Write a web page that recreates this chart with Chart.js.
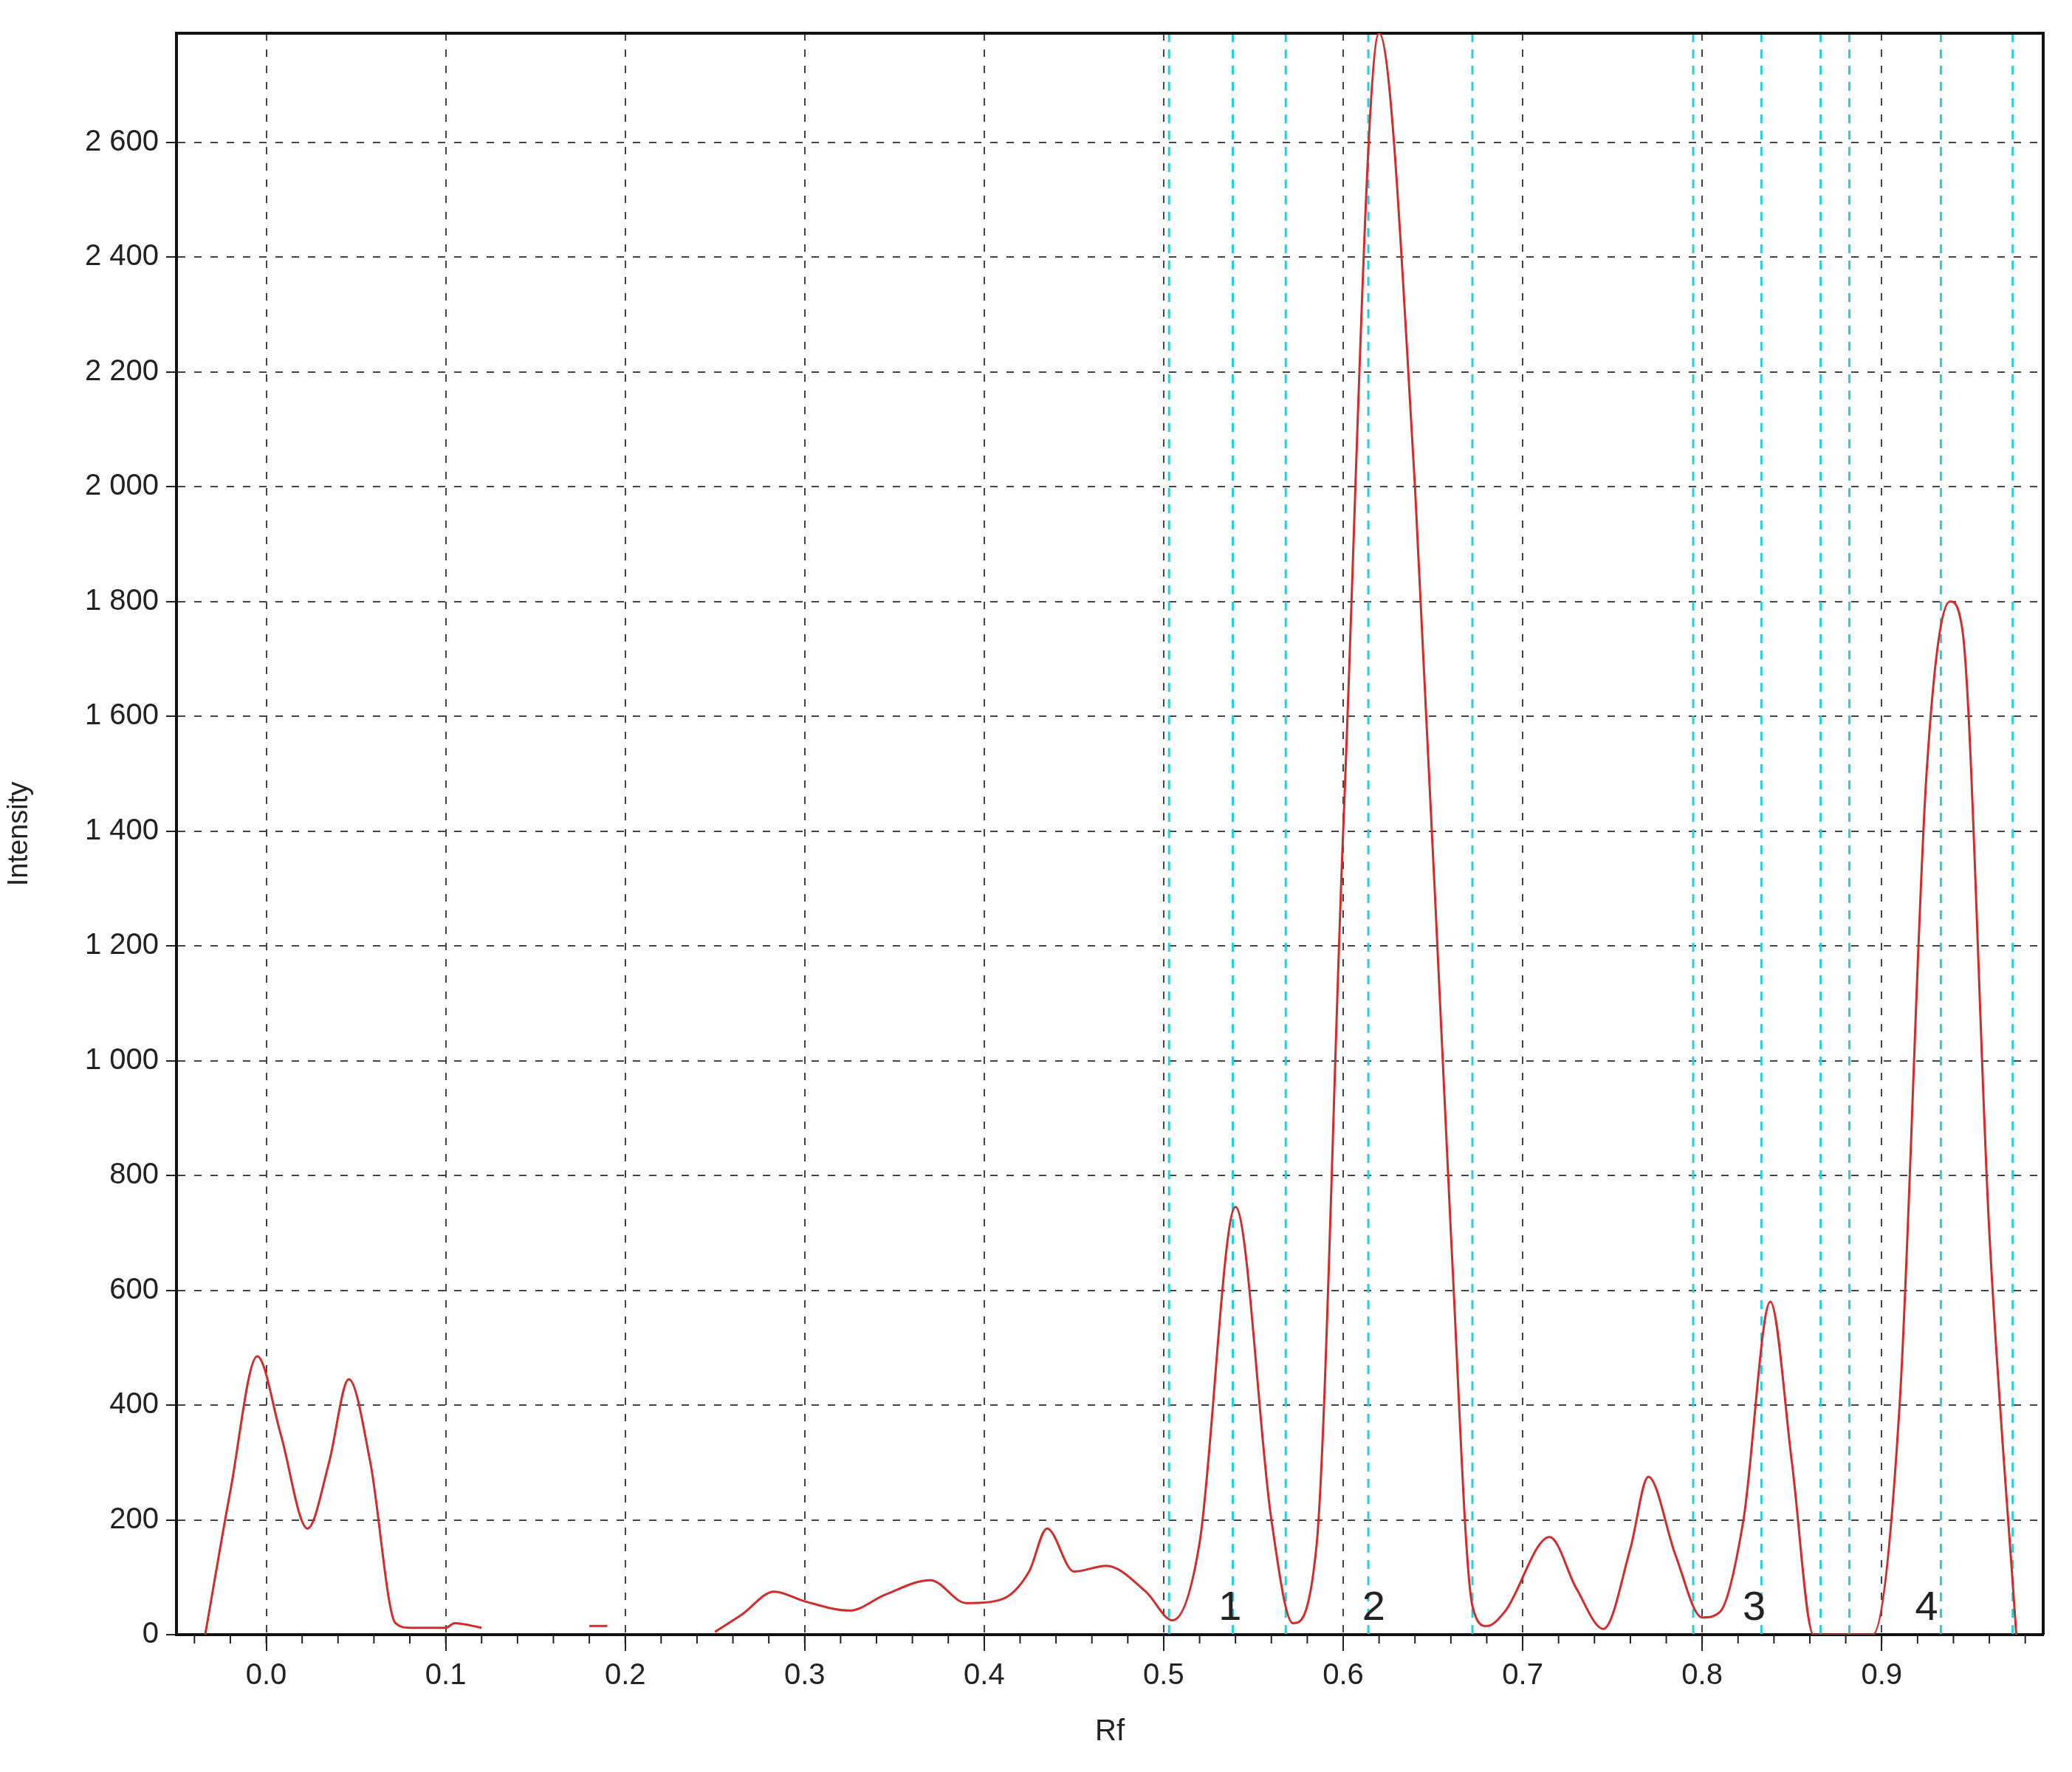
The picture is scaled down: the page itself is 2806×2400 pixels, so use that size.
<!DOCTYPE html>
<html>
<head>
<meta charset="utf-8">
<script src="https://cdn.jsdelivr.net/npm/chart.js@4/dist/chart.umd.min.js"></script>
<style>
  html, body { margin: 0; padding: 0; background: #fff; }
  #wrap { width: 2806px; height: 2400px; }
</style>
</head>
<body>
<div id="wrap"><canvas id="chart"></canvas></div>
<script>
// densitogram trace (Rf, intensity)
const rf = [-0.034, -0.02, -0.005, 0.008, 0.023, 0.035, 0.046, 0.058, 0.072, 0.08, 0.1, 0.105, 0.12,
  0.12, 0.18, 0.18, 0.19, 0.19, 0.25,
  0.25, 0.265, 0.283, 0.30, 0.325, 0.345, 0.37, 0.39, 0.41, 0.425, 0.435, 0.45, 0.468, 0.49, 0.505,
  0.52, 0.54, 0.56, 0.572, 0.585, 0.60, 0.62, 0.64, 0.66, 0.672, 0.68, 0.69, 0.715, 0.73, 0.745,
  0.76, 0.77, 0.785, 0.80, 0.81, 0.823, 0.838, 0.85, 0.862, 0.895, 0.91, 0.925, 0.938, 0.945, 0.96, 0.975];
const intensity = [0, 250, 485, 350, 185, 300, 445, 300, 20, 12, 12, 20, 12,
  null, null, 15, 15, null, null,
  5, 35, 75, 58, 42, 70, 95, 55, 62, 110, 185, 110, 120, 75, 25,
  160, 745, 200, 20, 150, 1400, 2790, 2000, 700, 50, 15, 40, 170, 80, 10,
  150, 275, 140, 30, 40, 200, 580, 300, 0, 0, 400, 1500, 1800, 1750, 700, 0];

const xTicks = [0.0, 0.1, 0.2, 0.3, 0.4, 0.5, 0.6, 0.7, 0.8, 0.9];
const cyanLines = [0.503, 0.5385, 0.568, 0.614, 0.672, 0.795, 0.833, 0.866, 0.882, 0.933, 0.973];
const peakNames = ['1', '2', '3', '4'];
const peakRf = [0.537, 0.617, 0.829, 0.925];

const points = rf.map((x, i) => ({ x: x, y: intensity[i] }));

const overlay = {
  id: 'overlay',
  beforeDatasetsDraw(chart) {
    const { ctx, chartArea: a, scales: { x, y } } = chart;
    ctx.save();
    ctx.strokeStyle = '#27d0d8';
    ctx.lineWidth = 3;
    ctx.setLineDash([12, 10]);
    cyanLines.forEach(v => {
      const px = x.getPixelForValue(v);
      ctx.beginPath();
      ctx.moveTo(px, a.top);
      ctx.lineTo(px, a.bottom);
      ctx.stroke();
    });
    ctx.setLineDash([]);
    ctx.fillStyle = '#222';
    ctx.font = '56px "Liberation Sans"';
    ctx.textAlign = 'center';
    ctx.textBaseline = 'bottom';
    peakNames.forEach((t, i) => {
      ctx.fillText(t, x.getPixelForValue(peakRf[i]), y.getPixelForValue(10));
    });
    // minor ticks on x axis
    ctx.strokeStyle = '#222';
    ctx.lineWidth = 2;
    for (let v = -0.04; v <= 0.985; v += 0.02) {
      const px = x.getPixelForValue(v);
      ctx.beginPath();
      ctx.moveTo(px, a.bottom);
      ctx.lineTo(px, a.bottom + 12);
      ctx.stroke();
    }
    // frame top and right
    ctx.strokeStyle = '#111';
    ctx.lineWidth = 4;
    ctx.beginPath();
    ctx.moveTo(a.left, a.top);
    ctx.lineTo(a.right, a.top);
    ctx.lineTo(a.right, a.bottom);
    ctx.stroke();
    ctx.restore();
  }
};

new Chart(document.getElementById('chart'), {
  type: 'line',
  data: {
    datasets: [{
      data: points,
      borderColor: '#d42a2a',
      borderWidth: 3,
      pointRadius: 0,
      tension: 0.4,
      cubicInterpolationMode: 'monotone',
      spanGaps: false,
      fill: false
    }]
  },
  options: {
    responsive: true,
    maintainAspectRatio: false,
    devicePixelRatio: 1,
    animation: false,
    layout: { padding: { top: 45, right: 39, left: 0, bottom: 0 } },
    plugins: { legend: { display: false }, tooltip: { enabled: false } },
    scales: {
      x: {
        type: 'linear',
        min: -0.05,
        max: 0.99,
        afterFit(s) { s.height = 186; },
        afterBuildTicks(s) { s.ticks = xTicks.map(v => ({ value: v })); },
        ticks: {
          color: '#222',
          font: { family: 'Liberation Sans', size: 40 },
          padding: 10,
          maxRotation: 0,
          callback: v => v.toFixed(1)
        },
        grid: { color: '#444', lineWidth: 2, tickLength: 22, tickColor: '#222' },
        border: { color: '#111', width: 4, dash: [10, 12] },
        title: { display: true, text: 'Rf', color: '#222', font: { family: 'Liberation Sans', size: 40 }, padding: { top: 0, bottom: 30 } }
      },
      y: {
        min: 0,
        max: 2790,
        afterFit(s) { s.width = 239; },
        afterBuildTicks(s) {
          const t = [];
          for (let v = 0; v <= 2600; v += 200) t.push({ value: v });
          s.ticks = t;
        },
        ticks: {
          color: '#222',
          font: { family: 'Liberation Sans', size: 40 },
          padding: 10,
          callback: v => v >= 1000 ? Math.floor(v / 1000) + ' ' + String(v % 1000).padStart(3, '0') : String(v)
        },
        grid: { color: '#444', lineWidth: 2, tickLength: 14, tickColor: '#222' },
        border: { color: '#111', width: 4, dash: [10, 12] },
        title: { display: true, text: 'Intensity', color: '#222', font: { family: 'Liberation Sans', size: 38 }, padding: 4 }
      }
    }
  },
  plugins: [overlay]
});
</script>
</body>
</html>
